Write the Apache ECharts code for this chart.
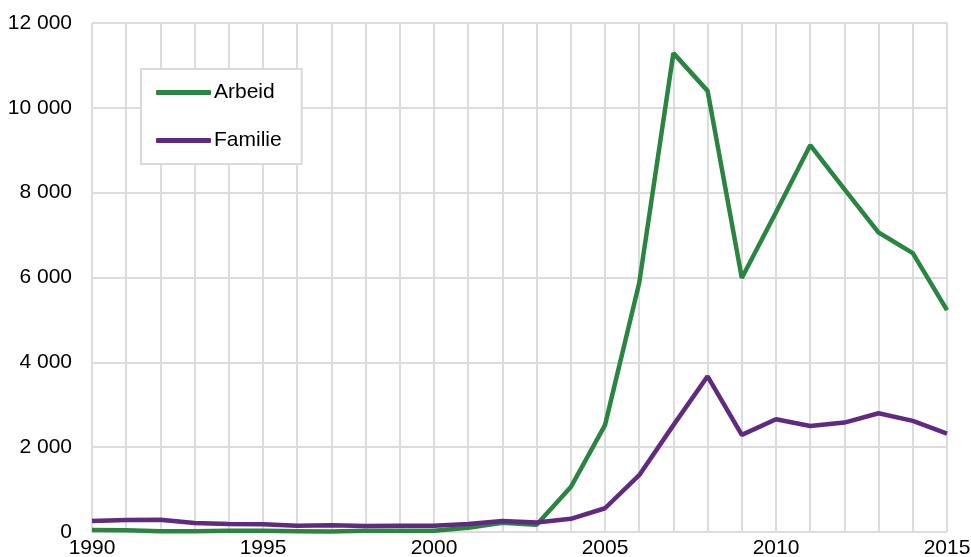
<!DOCTYPE html>
<html><head><meta charset="utf-8">
<script src="https://cdn.jsdelivr.net/npm/echarts@6/dist/echarts.min.js"></script>
<style>html,body{margin:0;padding:0;background:#fff}#c{width:971px;height:557px}</style>
</head><body><div id="c"></div>
<script>
const years = ['1990','1991','1992','1993','1994','1995','1996','1997','1998','1999','2000','2001','2002','2003','2004','2005','2006','2007','2008','2009','2010','2011','2012','2013','2014','2015'];
const arbeid = [50,40,20,20,30,30,20,10,30,30,30,100,220,170,1060,2520,5870,11290,10400,5990,7540,9120,8085,7060,6575,5230];
const familie = [260,280,290,210,190,180,150,160,140,150,150,190,260,225,310,560,1340,2520,3670,2290,2660,2500,2580,2800,2620,2320];
const yTicks = [0,2000,4000,6000,8000,10000,12000];
const fmt = v => String(v).replace(/\B(?=(\d{3})+(?!\d))/g, ' ');
const font = 'Liberation Sans, Arial, sans-serif';
const chart = echarts.init(document.getElementById('c'));
chart.setOption({
  animation: false,
  backgroundColor: '#fff',
  grid: {left: 92, right: 24, top: 23, bottom: 25, containLabel: false, outerBoundsMode: 'none'},
  legend: {
    orient: 'vertical', left: 141, top: 69,
    padding: [13, 20, 13, 15],
    itemGap: 27, itemWidth: 55, itemHeight: 5, icon: 'roundRect',
    borderColor: '#d9d9d9', borderWidth: 2, backgroundColor: '#fff',
    textStyle: {fontFamily: font, fontSize: 21, color: '#000', padding: [0,0,0,-2]},
    data: ['Arbeid','Familie']
  },
  xAxis: {
    type: 'category', data: years, boundaryGap: false,
    axisLine: {show: false}, axisTick: {show: false},
    axisLabel: {interval: 4, fontFamily: font, fontSize: 21, color: '#000', margin: 6},
    splitLine: {show: true, interval: 0, lineStyle: {color: '#dcdcdc', width: 2}}
  },
  yAxis: {
    type: 'value', min: 0, max: 12000, interval: 2000,
    axisLine: {show: false}, axisTick: {show: false},
    axisLabel: {fontFamily: font, fontSize: 21, color: '#000', margin: 20, formatter: v => yTicks.includes(v) ? fmt(v) : ''},
    splitLine: {lineStyle: {color: '#dcdcdc', width: 2}}
  },
  series: [
    {name: 'Arbeid', type: 'line', data: arbeid, showSymbol: false, z: 3,
     lineStyle: {color: '#2a8540', width: 4.5}, itemStyle: {color: '#2a8540'}},
    {name: 'Familie', type: 'line', data: familie, showSymbol: false, z: 4,
     lineStyle: {color: '#5f2a80', width: 4.5}, itemStyle: {color: '#5f2a80'}}
  ]
});
</script></body></html>
